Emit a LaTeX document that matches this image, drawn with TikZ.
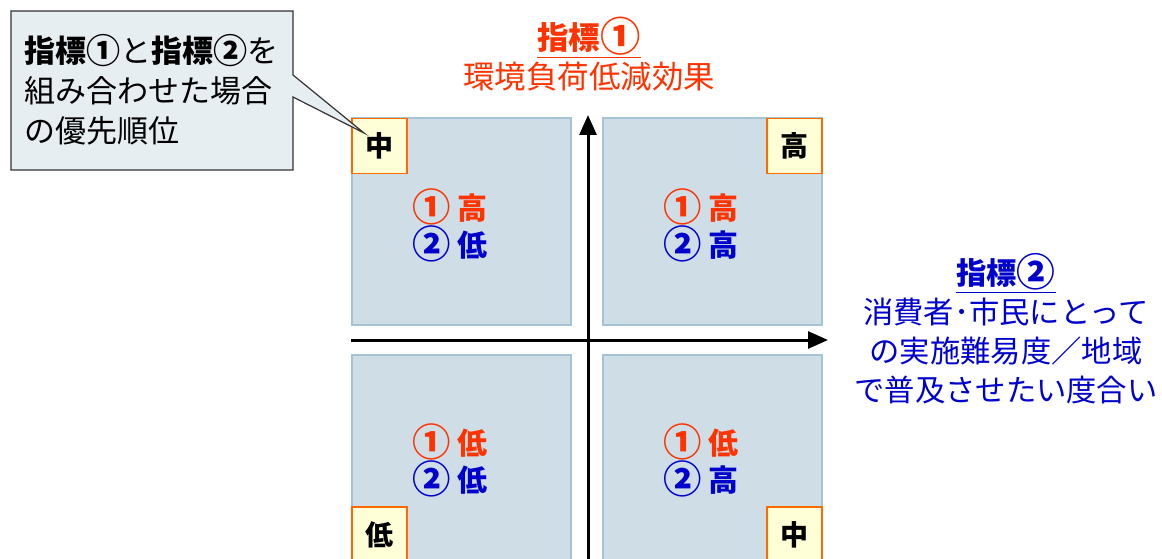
\documentclass[tikz,border=0pt]{standalone}
\usepackage{fontspec}
\setmainfont{Noto Sans CJK JP}
\usetikzlibrary{arrows.meta}
\definecolor{quadfill}{HTML}{CEDDE6}
\definecolor{quadline}{HTML}{A6C3D5}
\definecolor{tagfill}{HTML}{FFFFD7}
\definecolor{tagline}{HTML}{FF6A00}
\definecolor{notefill}{HTML}{E7EEF2}
\definecolor{noteline}{HTML}{333333}
\definecolor{ired}{HTML}{FF3300}
\definecolor{iblue}{HTML}{0000CC}
\newcommand{\cnum}[1]{\raisebox{-0.06em}{\scalebox{1.28}{#1}}}
\newcommand{\cnumb}[1]{\raisebox{-0.03em}{\scalebox{1.1}{#1}}}
\tikzset{
  quad/.style={draw=quadline, fill=quadfill, line width=1.5pt, minimum width=219pt, minimum height=207pt, inner sep=0pt},
  tagbox/.style={draw=tagline, fill=tagfill, line width=1.5pt, minimum size=55pt, inner sep=0pt, font=\fontsize{28}{28}\selectfont\bfseries},
  quadtext/.style={align=center, inner sep=0pt, font=\fontsize{30}{37}\selectfont\bfseries},
  axis/.style={line width=3pt, -{Triangle[length=20pt,width=17pt]}},
  callout/.style={draw=noteline, fill=notefill, line width=1.2pt},
  notetext/.style={align=left, inner sep=0pt, font=\fontsize{31}{40}\selectfont},
  titletext/.style={align=center, inner sep=0pt, font=\fontsize{31.5}{38.5}\selectfont},
  titletextb/.style={align=center, inner sep=0pt, font=\fontsize{30.3}{39}\selectfont}
}
\begin{document}
\begin{tikzpicture}[x=1pt,y=-1pt]
\clip (0,0) rectangle (1162,559);
\fill[white] (0,0) rectangle (1162,559);
% quadrants
\node[quad] (qtl) at (461.5,221.5) {};
\node[quad] (qtr) at (712.5,221.5) {};
\node[quad] (qbl) at (461.5,458.5) {};
\node[quad] (qbr) at (712.5,458.5) {};
% quadrant texts
\node[quadtext] (ttl) at (450,225) {\textcolor{ired}{\cnum{①} 高}\\\textcolor{iblue}{\cnum{②} 低}};
\node[quadtext] (ttr) at (701,225) {\textcolor{ired}{\cnum{①} 高}\\\textcolor{iblue}{\cnum{②} 高}};
\node[quadtext] (tbl) at (450,460) {\textcolor{ired}{\cnum{①} 低}\\\textcolor{iblue}{\cnum{②} 低}};
\node[quadtext] (tbr) at (701,460) {\textcolor{ired}{\cnum{①} 低}\\\textcolor{iblue}{\cnum{②} 高}};
% axes
\coordinate (hs) at (351,340);
\coordinate (he) at (828,340);
\coordinate (vs) at (588,570);
\coordinate (ve) at (588,115);
\draw[axis] (hs) -- (he);
\draw[axis] (vs) -- (ve);
% tags
\node[tagbox] (gtl) at (379.5,146) {中};
\node[tagbox] (gtr) at (794.5,146) {高};
\node[tagbox] (gbl) at (379.5,534.5) {低};
\node[tagbox] (gbr) at (794.5,534.5) {中};
% callout
\coordinate (tip) at (364,133);
\draw[callout] (11,11) -- (293,11) -- (293,75) -- (tip) -- (293,97) -- (293,170) -- (11,170) -- cycle;
\node[notetext, anchor=west] (note) at (24,90) {\textbf{指標\cnumb{①}}と\textbf{指標\cnumb{②}}を\\組み合わせた場合\\の優先順位};
% titles
\node[titletext, text=ired] (t1) at (589,54) {\textbf{\underline{指標\cnum{①}}}\\環境負荷低減効果};
\node[titletextb, text=iblue] (t2) at (1006,329) {\textbf{\underline{指標\cnum{②}}}\\消費者･市民にとって\\の実施難易度／地域\\で普及させたい度合い};
\end{tikzpicture}
\end{document}
